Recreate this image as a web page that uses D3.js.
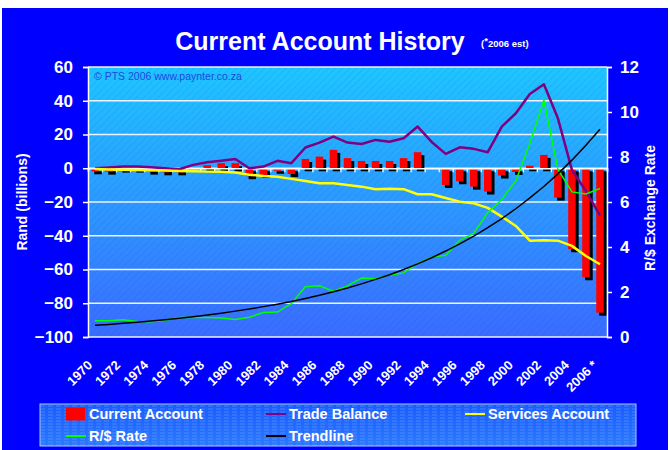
<!DOCTYPE html>
<html>
<head>
<meta charset="utf-8">
<script src="https://cdn.jsdelivr.net/npm/d3@7"></script>
<style>
  body { margin: 0; background: #fff; }
  svg { display: block; font-family: "Liberation Sans", Arial, sans-serif; }
</style>
</head>
<body>
<div id="chart"></div>
<script>
// years on the category axis, last one is an estimate
var years = [1970, 1971, 1972, 1973, 1974, 1975, 1976, 1977, 1978, 1979,
  1980, 1981, 1982, 1983, 1984, 1985, 1986, 1987, 1988, 1989,
  1990, 1991, 1992, 1993, 1994, 1995, 1996, 1997, 1998, 1999,
  2000, 2001, 2002, 2003, 2004, 2005, 2006];
var yearLabels = ["1970", "1972", "1974", "1976", "1978", "1980", "1982", "1984", "1986", "1988",
  "1990", "1992", "1994", "1996", "1998", "2000", "2002", "2004", "2006 *"];

// Rand billions (left axis)
var currentAccount = [-1.8, -2.0, -0.8, -0.8, -2.0, -2.4, -2.4, 0, 1.8, 3.0,
  3.0, -4.7, -4.0, -1.5, -3.4, 5.5, 6.9, 10.9, 6.0, 4.3,
  4.3, 4.3, 6.0, 9.5, 0, -9.9, -7.7, -10.9, -13.8, -4.3,
  -2.2, 1.5, 7.9, -17.4, -48, -64.6, -85.6];
var tradeBalance = [0, 0.5, 1, 1, 0.6, 0, -0.6, 2, 3.5, 4.5,
  5.5, 0, 1, 4.4, 3, 12.3, 15.2, 18.8, 15.2, 14.4,
  16.8, 15.7, 17.8, 24.7, 15.6, 8.5, 12.4, 11.5, 9.5, 24.7,
  32.6, 44, 49.8, 29.6, -1, -13.5, -28];
var servicesAccount = [-0.5, -0.7, -0.9, -1.0, -1.2, -1.4, -1.6, -1.8, -2.0, -2.1,
  -2.5, -3.8, -4.6, -5.1, -6.3, -7.5, -8.9, -8.9, -9.9, -10.9,
  -12.4, -12.2, -12.4, -15.4, -15.4, -17.6, -19.8, -20.8, -23.5, -28.7,
  -34.2, -42.9, -42.6, -42.9, -46, -52, -56.9];

// R/$ (right axis)
var randRate = [0.72, 0.72, 0.77, 0.69, 0.68, 0.74, 0.87, 0.87, 0.87, 0.84,
  0.78, 0.88, 1.09, 1.11, 1.48, 2.23, 2.28, 2.04, 2.27, 2.62,
  2.59, 2.76, 2.85, 3.27, 3.55, 3.63, 4.30, 4.61, 5.53, 6.11,
  6.94, 8.61, 10.52, 7.45, 6.45, 6.36, 6.6];
var trendline = [0.52, 0.56, 0.61, 0.66, 0.71, 0.77, 0.83, 0.9, 0.98, 1.06,
  1.15, 1.24, 1.35, 1.46, 1.58, 1.71, 1.86, 2.01, 2.18, 2.36,
  2.56, 2.77, 3.0, 3.25, 3.52, 3.82, 4.14, 4.48, 4.86, 5.26,
  5.7, 6.18, 6.69, 7.25, 7.86, 8.52, 9.23];

var leftTicks = [60, 40, 20, 0, -20, -40, -60, -80, -100];
var rightTicks = [12, 10, 8, 6, 4, 2, 0];

var W = 670, H = 450;
var plot = { left: 88, right: 607, top: 67, bottom: 337 };

var svg = d3.select("#chart").append("svg")
  .attr("width", W).attr("height", H);

var defs = svg.append("defs");

var grad = defs.append("linearGradient").attr("id", "plotGrad")
  .attr("x1", 0).attr("y1", 0).attr("x2", 0).attr("y2", 1);
grad.append("stop").attr("offset", "0%").attr("stop-color", "#1ec6ff");
grad.append("stop").attr("offset", "100%").attr("stop-color", "#3a6cff");

var hatch = defs.append("pattern").attr("id", "hatch")
  .attr("patternUnits", "userSpaceOnUse")
  .attr("width", 5).attr("height", 5)
  .attr("patternTransform", "rotate(45)");
hatch.append("line")
  .attr("x1", 0).attr("y1", 0).attr("x2", 0).attr("y2", 5)
  .attr("stroke", "#1030c0").attr("stroke-opacity", 0.32)
  .attr("stroke-width", 1).attr("stroke-dasharray", "1.5,1");

var legGrad = defs.append("linearGradient").attr("id", "legGrad")
  .attr("x1", 0).attr("y1", 0).attr("x2", 0).attr("y2", 1);
legGrad.append("stop").attr("offset", "0%").attr("stop-color", "#1a5cff");
legGrad.append("stop").attr("offset", "100%").attr("stop-color", "#2a78ff");

var legHatch = defs.append("pattern").attr("id", "legHatch")
  .attr("patternUnits", "userSpaceOnUse")
  .attr("width", 8).attr("height", 3);
legHatch.append("line")
  .attr("x1", 0).attr("y1", 1).attr("x2", 5).attr("y2", 1)
  .attr("stroke", "#8fc0ff").attr("stroke-opacity", 0.35);

// outer blue frame
svg.append("rect")
  .attr("x", 2).attr("y", 8).attr("width", W - 4).attr("height", H - 8)
  .attr("fill", "#0000ff");

// scales
var x = d3.scaleBand().domain(years).range([plot.left, plot.right]).padding(0);
var xIdx = d3.scaleLinear().domain([0, years.length]).range([plot.left, plot.right]);
var yL = d3.scaleLinear().domain([-100, 60]).range([plot.bottom, plot.top]);
var yR = d3.scaleLinear().domain([0, 12]).range([plot.bottom, plot.top]);

// plot background
svg.append("rect")
  .attr("x", plot.left).attr("y", plot.top)
  .attr("width", plot.right - plot.left).attr("height", plot.bottom - plot.top)
  .attr("fill", "url(#plotGrad)");
svg.append("rect")
  .attr("x", plot.left).attr("y", plot.top)
  .attr("width", plot.right - plot.left).attr("height", plot.bottom - plot.top)
  .attr("fill", "url(#hatch)");

// gridlines
svg.append("g").selectAll("line").data(leftTicks).enter().append("line")
  .attr("x1", plot.left).attr("x2", plot.right)
  .attr("y1", d => yL(d)).attr("y2", d => yL(d))
  .attr("stroke", "#eef4ff").attr("stroke-width", 1.5);

svg.append("text")
  .attr("x", 94).attr("y", 80)
  .attr("font-size", 10.5).attr("fill", "#2048e0")
  .text("© PTS 2006 www.paynter.co.za");

// bars with drop shadow
var bw = 7.5;
var bars = svg.append("g");
bars.selectAll(".shadow").data(currentAccount).enter().append("rect")
  .attr("class", "shadow")
  .attr("x", (d, i) => x(years[i]) + x.bandwidth() / 2 - bw / 2 + 3)
  .attr("y", d => Math.min(yL(d), yL(0)) + 3)
  .attr("width", bw)
  .attr("height", d => Math.abs(yL(d) - yL(0)))
  .attr("fill", "#000");
bars.selectAll(".bar").data(currentAccount).enter().append("rect")
  .attr("class", "bar")
  .attr("x", (d, i) => x(years[i]) + x.bandwidth() / 2 - bw / 2)
  .attr("y", d => Math.min(yL(d), yL(0)))
  .attr("width", bw)
  .attr("height", d => Math.abs(yL(d) - yL(0)))
  .attr("fill", "#ff0000");

// zero axis with category ticks
svg.append("g")
  .attr("class", "zero-axis")
  .attr("transform", `translate(0, ${yL(0)})`)
  .call(d3.axisBottom(xIdx).tickValues(d3.range(0, years.length + 1)).tickSize(4).tickFormat(""))
  .call(g => g.select(".domain").attr("stroke", "#ffffff").attr("stroke-width", 1.5))
  .call(g => g.selectAll(".tick line").attr("stroke", "#ffffff").attr("stroke-width", 1.2));

// lines
var cx = (d, i) => x(years[i]) + x.bandwidth() / 2;
var lineL = d3.line().x(cx).y(d => yL(d));
var lineR = d3.line().x(cx).y(d => yR(d));

svg.append("path").datum(tradeBalance)
  .attr("d", lineL).attr("fill", "none")
  .attr("stroke", "#800080").attr("stroke-width", 2.5).attr("stroke-linejoin", "round");
svg.append("path").datum(servicesAccount)
  .attr("d", lineL).attr("fill", "none")
  .attr("stroke", "#ffff00").attr("stroke-width", 2.5).attr("stroke-linejoin", "round");
svg.append("path").datum(randRate)
  .attr("d", lineR).attr("fill", "none")
  .attr("stroke", "#00ff00").attr("stroke-width", 1.5);
svg.append("path").datum(trendline)
  .attr("d", lineR).attr("fill", "none")
  .attr("stroke", "#000000").attr("stroke-width", 1.5);

// left axis
svg.append("g")
  .attr("transform", `translate(${plot.left}, 0)`)
  .call(d3.axisLeft(yL).tickValues(leftTicks).tickSize(5).tickPadding(10))
  .call(g => g.select(".domain").attr("stroke", "#ffffff").attr("stroke-width", 1.5))
  .call(g => g.selectAll(".tick line").attr("stroke", "#ffffff").attr("stroke-width", 1.5))
  .call(g => g.selectAll(".tick text").attr("fill", "#ffffff")
    .attr("font-size", 17).attr("font-weight", "bold")
    .attr("font-family", "Liberation Sans, Arial, sans-serif"));

// right axis
svg.append("g")
  .attr("transform", `translate(${plot.right}, 0)`)
  .call(d3.axisRight(yR).tickValues(rightTicks).tickSize(5).tickPadding(8))
  .call(g => g.select(".domain").attr("stroke", "#ffffff").attr("stroke-width", 1.5))
  .call(g => g.selectAll(".tick line").attr("stroke", "#ffffff").attr("stroke-width", 1.5))
  .call(g => g.selectAll(".tick text").attr("fill", "#ffffff")
    .attr("font-size", 17).attr("font-weight", "bold")
    .attr("font-family", "Liberation Sans, Arial, sans-serif"));

// year labels
var labelYears = years.filter((d, i) => i % 2 === 0);
svg.append("g").selectAll("text").data(labelYears).enter().append("text")
  .attr("transform", d => `translate(${x(d) + x.bandwidth() / 2 - 2}, 366) rotate(-45)`)
  .attr("text-anchor", "end")
  .attr("fill", "#ffffff").attr("font-size", 13).attr("font-weight", "bold")
  .text((d, i) => yearLabels[i]);

// axis titles
svg.append("text")
  .attr("transform", "translate(27, 202) rotate(-90)")
  .attr("text-anchor", "middle")
  .attr("fill", "#ffffff").attr("font-size", 14).attr("font-weight", "bold")
  .text("Rand (billions)");
svg.append("text")
  .attr("transform", "translate(655, 208) rotate(-90)")
  .attr("text-anchor", "middle")
  .attr("fill", "#ffffff").attr("font-size", 14).attr("font-weight", "bold")
  .text("R/$ Exchange Rate");

// title
svg.append("text")
  .attr("x", 320).attr("y", 50)
  .attr("text-anchor", "middle")
  .attr("fill", "#ffffff").attr("font-size", 25).attr("font-weight", "bold")
  .text("Current Account History");
var sub = svg.append("text")
  .attr("x", 481).attr("y", 47)
  .attr("fill", "#ffffff").attr("font-size", 9.5).attr("font-weight", "bold");
sub.append("tspan").text("(");
sub.append("tspan").attr("dy", -3).text("*");
sub.append("tspan").attr("dy", 3).text("2006 est)");

// legend
var legend = svg.append("g");
legend.append("rect")
  .attr("x", 40).attr("y", 404).attr("width", 596).attr("height", 42)
  .attr("fill", "url(#legGrad)").attr("stroke", "#a8c8ff").attr("stroke-width", 1);
legend.append("rect")
  .attr("x", 40).attr("y", 404).attr("width", 596).attr("height", 42)
  .attr("fill", "url(#legHatch)");

var legendItems = [
  { name: "Current Account", color: "#ff0000", kind: "bar", col: 0, row: 0 },
  { name: "Trade Balance", color: "#800080", kind: "line", col: 1, row: 0 },
  { name: "Services Account", color: "#ffff00", kind: "line", col: 2, row: 0 },
  { name: "R/$ Rate", color: "#00ff00", kind: "line", col: 0, row: 1 },
  { name: "Trendline", color: "#000000", kind: "line", col: 1, row: 1 }
];
var colX = [66, 266, 465];
var rowY = [414, 436];

legendItems.forEach(d => {
  var lx = colX[d.col], ly = rowY[d.row];
  if (d.kind === "bar") {
    legend.append("rect")
      .attr("x", lx).attr("y", ly - 6.5).attr("width", 19).attr("height", 13)
      .attr("fill", d.color);
  } else {
    legend.append("line")
      .attr("x1", lx).attr("x2", lx + 20).attr("y1", ly).attr("y2", ly)
      .attr("stroke", d.color).attr("stroke-width", 2);
  }
  legend.append("text")
    .attr("x", lx + 23).attr("y", ly + 5)
    .attr("fill", "#ffffff").attr("font-size", 14.5).attr("font-weight", "bold")
    .text(d.name);
});
</script>
</body>
</html>
